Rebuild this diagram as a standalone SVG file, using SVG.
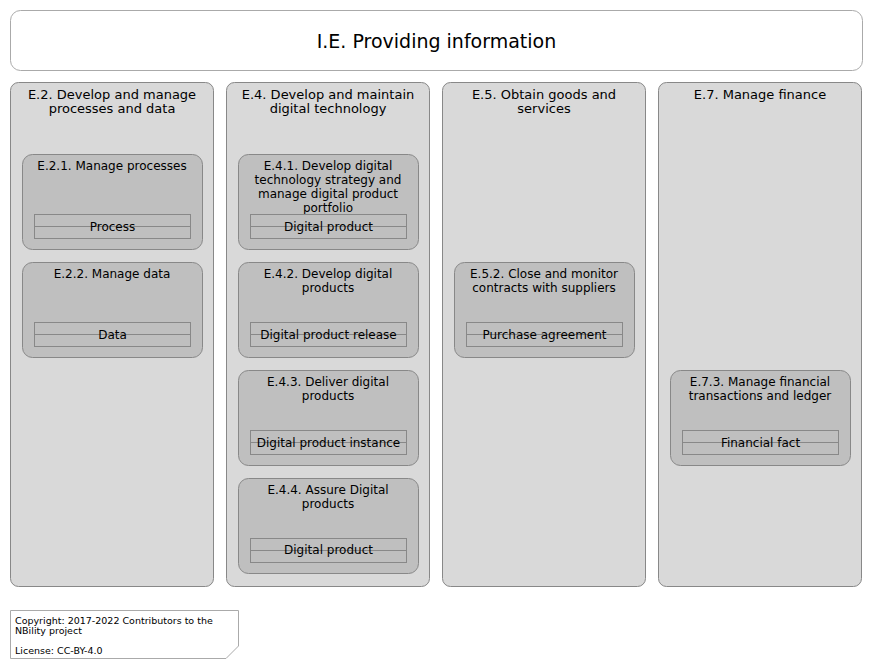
<svg xmlns="http://www.w3.org/2000/svg" width="873" height="669" viewBox="0 0 873 669">
<style>
text{font-family:"DejaVu Sans","Liberation Sans",sans-serif;fill:#000;text-anchor:middle}
.title{font-size:19px}
.col rect{fill:#d9d9d9;stroke:#888;stroke-width:1}
.col text{font-size:13px}
.cap rect.b{fill:#bfbfbf;stroke:#888;stroke-width:1}
.cap text{font-size:12px}
.obj rect{fill:none;stroke:#888;stroke-width:1}
.obj line{stroke:#888;stroke-width:1}
.obj text{font-size:12px}
.note path{fill:#fff;stroke:#aaa;stroke-width:1}
.note text{font-size:9.5px;text-anchor:start}
</style>
<rect width="873" height="669" fill="#fff"/>
<g id="title">
<rect x="10.5" y="10.5" width="852" height="60" rx="10" fill="#fff" stroke="#aaa"/>
<text class="title" x="436.5" y="48">I.E. Providing information</text>
</g>
<g id="E2" class="col">
<rect x="10.5" y="82.5" width="203" height="504" rx="8"/>
<text x="112" y="99">E.2. Develop and manage</text>
<text x="112" y="113">processes and data</text>
</g>
<g id="E4" class="col">
<rect x="226.5" y="82.5" width="203" height="504" rx="8"/>
<text x="328" y="99">E.4. Develop and maintain</text>
<text x="328" y="113">digital technology</text>
</g>
<g id="E5" class="col">
<rect x="442.5" y="82.5" width="203" height="504" rx="8"/>
<text x="544" y="99">E.5. Obtain goods and</text>
<text x="544" y="113">services</text>
</g>
<g id="E7" class="col">
<rect x="658.5" y="82.5" width="203" height="504" rx="8"/>
<text x="760" y="99">E.7. Manage finance</text>
</g>

<g id="E21" class="cap">
<rect class="b" x="22.5" y="154.5" width="180" height="95" rx="10"/>
<text x="112" y="170">E.2.1. Manage processes</text>
<g class="obj"><rect x="34.5" y="214.5" width="156" height="24"/><line x1="34.5" y1="226.5" x2="190.5" y2="226.5"/><text x="112.5" y="231">Process</text></g>
</g>
<g id="E22" class="cap">
<rect class="b" x="22.5" y="262.5" width="180" height="95" rx="10"/>
<text x="112" y="278">E.2.2. Manage data</text>
<g class="obj"><rect x="34.5" y="322.5" width="156" height="24"/><line x1="34.5" y1="334.5" x2="190.5" y2="334.5"/><text x="112.5" y="339">Data</text></g>
</g>

<g id="E41" class="cap">
<rect class="b" x="238.5" y="154.5" width="180" height="95" rx="10"/>
<text x="328" y="170">E.4.1. Develop digital</text>
<text x="328" y="184">technology strategy and</text>
<text x="328" y="198">manage digital product</text>
<text x="328" y="212">portfolio</text>
<g class="obj"><rect x="250.5" y="214.5" width="156" height="24"/><line x1="250.5" y1="226.5" x2="406.5" y2="226.5"/><text x="328.5" y="231">Digital product</text></g>
</g>
<g id="E42" class="cap">
<rect class="b" x="238.5" y="262.5" width="180" height="95" rx="10"/>
<text x="328" y="278">E.4.2. Develop digital</text>
<text x="328" y="292">products</text>
<g class="obj"><rect x="250.5" y="322.5" width="156" height="24"/><line x1="250.5" y1="334.5" x2="406.5" y2="334.5"/><text x="328.5" y="339">Digital product release</text></g>
</g>
<g id="E43" class="cap">
<rect class="b" x="238.5" y="370.5" width="180" height="95" rx="10"/>
<text x="328" y="386">E.4.3. Deliver digital</text>
<text x="328" y="400">products</text>
<g class="obj"><rect x="250.5" y="430.5" width="156" height="24"/><line x1="250.5" y1="442.5" x2="406.5" y2="442.5"/><text x="328.5" y="447">Digital product instance</text></g>
</g>
<g id="E44" class="cap">
<rect class="b" x="238.5" y="478.5" width="180" height="95" rx="10"/>
<text x="328" y="494">E.4.4. Assure Digital</text>
<text x="328" y="508">products</text>
<g class="obj"><rect x="250.5" y="538.5" width="156" height="24"/><line x1="250.5" y1="550.5" x2="406.5" y2="550.5"/><text x="328.5" y="554">Digital product</text></g>
</g>

<g id="E52" class="cap">
<rect class="b" x="454.5" y="262.5" width="180" height="95" rx="10"/>
<text x="544" y="278">E.5.2. Close and monitor</text>
<text x="544" y="292">contracts with suppliers</text>
<g class="obj"><rect x="466.5" y="322.5" width="156" height="24"/><line x1="466.5" y1="334.5" x2="622.5" y2="334.5"/><text x="544.5" y="339">Purchase agreement</text></g>
</g>

<g id="E73" class="cap">
<rect class="b" x="670.5" y="370.5" width="180" height="95" rx="10"/>
<text x="760" y="386">E.7.3. Manage financial</text>
<text x="760" y="400">transactions and ledger</text>
<g class="obj"><rect x="682.5" y="430.5" width="156" height="24"/><line x1="682.5" y1="442.5" x2="838.5" y2="442.5"/><text x="760.5" y="447">Financial fact</text></g>
</g>

<g id="note" class="note">
<path d="M10.5 610.5 H238.5 V646 L226 658.5 H10.5 Z"/>
<text x="15" y="624">Copyright: 2017-2022 Contributors to the</text>
<text x="15" y="634">NBility project</text>
<text x="15" y="654">License: CC-BY-4.0</text>
</g>
<g id="connectors"></g>
</svg>
